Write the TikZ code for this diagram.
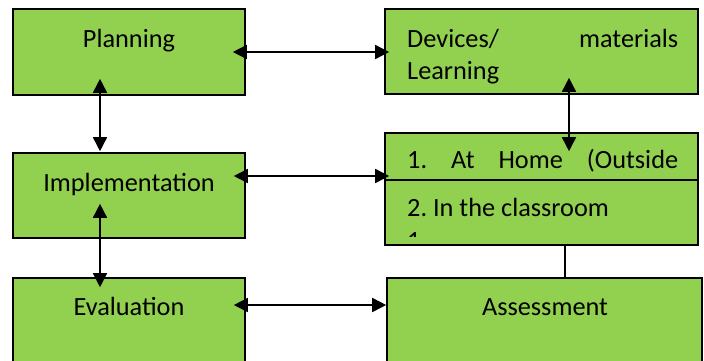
\documentclass[tikz,border=0pt]{standalone}
\usepackage{fontspec}
\setmainfont{Carlito}
\usetikzlibrary{arrows.meta,calc}
\definecolor{boxgreen}{HTML}{92D050}
\frenchspacing
\tikzset{
  box/.style={draw=black, line width=1.6pt, fill=boxgreen, rectangle, inner sep=0pt},
  label/.style={inner sep=0pt, font=\fontsize{26.3}{32}\selectfont},
  link/.style={line width=1.6pt, {Triangle[length=14pt,width=14pt]}-{Triangle[length=14pt,width=14pt]}},
  plainlink/.style={line width=1.6pt}
}
\begin{document}
\begin{tikzpicture}[x=1pt,y=-1pt]
\clip (0,0) rectangle (704,360);
\fill[white] (0,0) rectangle (704,360);

% boxes
\node[box, minimum width=232pt, minimum height=86pt] (plan) at (129,52) {};
\node[box, minimum width=313pt, minimum height=85pt] (dev) at (541.5,51.5) {};
\node[box, minimum width=232pt, minimum height=85pt] (impl) at (129,195.5) {};
\node[box, minimum width=313pt, minimum height=47pt] (home1) at (541.5,156.5) {};
\node[box, minimum width=313pt, minimum height=65pt] (home2) at (541.5,212.5) {};
\node[box, minimum width=232pt, minimum height=92pt] (eval) at (129,324) {};
\node[box, minimum width=315pt, minimum height=92pt] (assess) at (544.5,324) {};

% texts
\node[label, anchor=base] (tplan) at (129,47) {Planning};
\node[label, anchor=base] (timpl) at (129,191) {Implementation};
\node[label, anchor=base] (teval) at (129,315) {Evaluation};
\node[label, anchor=base] (tassess) at (545,315) {Assessment};
\node[label, anchor=base west] (tdev) at (407,47) {\makebox[271pt][s]{Devices/ materials}};
\node[label, anchor=base west] (tlearn) at (407,79) {Learning};
\node[label, anchor=base west] (thome) at (407,168) {\makebox[271pt][s]{1. At Home (Outside}};
\node[label, anchor=base west] (tclass) at (407,216) {2. In the classroom};
\begin{scope}
  \clip (400,220) rectangle (460,236.5);
  \node[label, anchor=base west] (tnext) at (407,249) {1};
\end{scope}

% connectors
\draw[link] ($(plan.east)+(-13,0)$) -- ($(dev.west)+(5,0.5)$);
\draw[link] ($(impl.east)+(-12,-19.5)$) -- ($(home1.west)+(5,19.5)$);
\draw[link] ($(eval.east)+(-12,-19)$) -- ($(assess.west)+(0,-19)$);
\draw[link] ($(plan.south)+(-29,-17)$) -- ($(impl.north)+(-29,-1)$);
\draw[link] ($(impl.south)+(-29,-35)$) -- ($(eval.north)+(-29,10)$);
\draw[link] ($(dev.south)+(27.5,-17)$) -- ($(home1.north)+(27.5,19)$);
\draw[plainlink] ($(home2.south)+(23.5,0)$) -- ($(assess.north)+(20.5,0)$);
\end{tikzpicture}
\end{document}
